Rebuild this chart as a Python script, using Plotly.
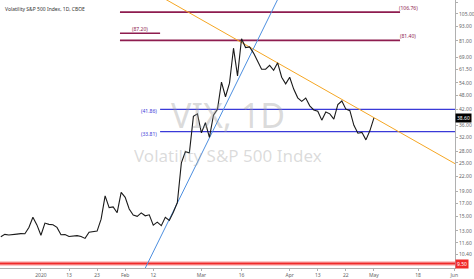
import math
import plotly.graph_objects as go

# ---------------- data ----------------
# VIX daily closes, 17 Dec 2019 -> 1 May 2020 (trading-day index 0 = 2 Jan 2020)
first_index = -10
vix_close = [
    12.29, 12.58, 12.50, 12.51, 12.61, 12.67, 12.65, 13.43, 14.82, 13.78,
    12.47, 14.02, 13.85, 13.79, 13.45, 12.54, 12.56, 12.32, 12.39, 12.42, 12.32,
    12.10, 12.85, 12.91, 12.98, 14.56, 18.23, 16.28, 16.39, 15.49, 18.84,
    17.97, 16.05, 15.15, 14.96, 15.47, 15.04, 15.18, 13.74, 14.15, 13.68,
    14.83, 14.38, 15.56, 17.08, 25.03, 27.85, 27.56, 39.16, 40.11,
    33.42, 36.82, 31.99, 39.62, 41.94, 54.46, 47.30, 53.90, 75.47, 57.83,
    82.69, 75.91, 76.45, 72.00, 66.04, 61.59, 61.67, 63.95, 61.00, 65.54,
    57.08, 53.54,
    57.06, 50.91, 46.80, 45.24, 46.70, 43.35, 41.67, 41.17, 37.76, 40.84,
    40.11, 38.15, 43.83, 45.41, 41.98, 41.38, 35.93, 33.29, 33.57, 31.23, 34.15,
    38.60,
]
bar_index = list(range(first_index, first_index + len(vix_close)))

x_tick_index = [0, 7, 14, 21, 28, 40, 50, 62, 69, 76, 83, 94, 103]
x_tick_text = ["2020", "13", "23", "Feb", "12", "Mar", "16", "Apr", "13", "22", "May", "18", "Jun"]

y_tick_values = [10.4, 11.6, 13, 15, 17, 19, 22, 25, 28, 32, 36, 42, 48, 54, 61.5, 69, 81, 93, 105, 117]

# drawn levels
maroon_levels = [106.76, 81.40]
maroon_short_level = [87.20]
blue_levels = [41.86, 33.81]
support_level = [9.50]
last_price = [38.60]

# drawn trend lines (index, value)
orange_trend_x = [25, 110]
orange_trend_y = [138.0, 21.4]
blue_trend_x = [20, 65]
blue_trend_y = [5.68, 193.0]

# ---------------- figure ----------------
X_MIN, X_MAX = -10.2, 103.2
Y_MIN, Y_MAX = 9.1, 120.0

MAROON = "#8e1c4f"
BLUE_H = "#3a3ad8"
BLUE_T = "#4d8fe0"
ORANGE = "#f5a623"
RED = "#f02a2a"
FONT = "Noto Sans"

fig = go.Figure()

# support line (with soft halo)
for lvl in support_level:
    fig.add_trace(go.Scatter(x=[X_MIN - 5, X_MAX + 5], y=[lvl, lvl], mode="lines",
                             line=dict(color="rgba(240,42,42,0.25)", width=5),
                             hoverinfo="skip", showlegend=False))
    fig.add_trace(go.Scatter(x=[X_MIN - 5, X_MAX + 5], y=[lvl, lvl], mode="lines",
                             line=dict(color=RED, width=2),
                             hoverinfo="skip", showlegend=False))

# maroon levels
for lvl in maroon_levels:
    fig.add_trace(go.Scatter(x=[19.7, 89.5], y=[lvl, lvl], mode="lines",
                             line=dict(color=MAROON, width=1.6),
                             hoverinfo="skip", showlegend=False))
for lvl in maroon_short_level:
    fig.add_trace(go.Scatter(x=[19.7, 29.7], y=[lvl, lvl], mode="lines",
                             line=dict(color=MAROON, width=1.6),
                             hoverinfo="skip", showlegend=False))

# blue levels
for lvl in blue_levels:
    fig.add_trace(go.Scatter(x=[29.7, X_MAX + 5], y=[lvl, lvl], mode="lines",
                             line=dict(color=BLUE_H, width=1.2),
                             hoverinfo="skip", showlegend=False))

# trend lines
fig.add_trace(go.Scatter(x=orange_trend_x, y=orange_trend_y, mode="lines",
                         line=dict(color=ORANGE, width=1), hoverinfo="skip", showlegend=False))
fig.add_trace(go.Scatter(x=blue_trend_x, y=blue_trend_y, mode="lines",
                         line=dict(color=BLUE_T, width=1), hoverinfo="skip", showlegend=False))

# price
fig.add_trace(go.Scatter(x=bar_index, y=vix_close, mode="lines",
                         line=dict(color="#1a1a1a", width=1.1), showlegend=False))

ann = []
# watermark
ann.append(dict(text="VIX, 1D", xref="paper", yref="paper", x=0.501, y=0.571,
                showarrow=False, font=dict(family=FONT, size=34, color="rgba(160,160,160,0.38)")))
ann.append(dict(text="Volatility S&P 500 Index", xref="paper", yref="paper", x=0.5, y=0.418,
                showarrow=False, font=dict(family=FONT, size=17, color="rgba(160,160,160,0.38)")))
# title
ann.append(dict(text="Volatility S&P 500 Index, 1D, CBOE", xref="paper", yref="paper",
                x=0.006, y=0.985, xanchor="left", yanchor="top", showarrow=False,
                font=dict(family=FONT, size=5, color="#333333")))
# level labels
for lvl in maroon_levels:
    ann.append(dict(text=f"({lvl:.2f})", x=91.5, y=math.log10(lvl), xref="x", yref="y",
                    showarrow=False, yshift=4, font=dict(family=FONT, size=5, color=MAROON)))
for lvl in maroon_short_level:
    ann.append(dict(text=f"({lvl:.2f})", x=24.7, y=math.log10(lvl), xref="x", yref="y",
                    showarrow=False, yshift=4, font=dict(family=FONT, size=5, color=MAROON)))
for lvl in blue_levels:
    ann.append(dict(text=f"({lvl:.2f})", x=29.4, y=math.log10(lvl), xref="x", yref="y",
                    xanchor="right", showarrow=False, yshift=-2,
                    font=dict(family=FONT, size=5, color=BLUE_H)))
# axis price tags
for lvl in last_price:
    ann.append(dict(text=f"{lvl:.2f}", x=1.0, y=math.log10(lvl), xref="paper", yref="y",
                    xanchor="left", showarrow=False, bgcolor="#000000", borderpad=1,
                    font=dict(family=FONT, size=5, color="#ffffff")))
for lvl in support_level:
    ann.append(dict(text=f"{lvl:.2f}", x=1.0, y=math.log10(lvl), xref="paper", yref="y",
                    xanchor="left", showarrow=False, bgcolor=RED, borderpad=1,
                    font=dict(family=FONT, size=5, color="#ffffff")))

fig.update_layout(
    template="none",
    width=474, height=279,
    margin=dict(l=0, r=19, t=0, b=11),
    paper_bgcolor="#ffffff", plot_bgcolor="#ffffff",
    showlegend=False,
    annotations=ann,
    xaxis=dict(range=[X_MIN, X_MAX], tickmode="array", tickvals=x_tick_index, ticktext=x_tick_text,
               showgrid=False, zeroline=False, showline=True, linecolor="#b0b0b0", linewidth=1,
               ticks="outside", ticklen=2, tickcolor="#b0b0b0", automargin=False,
               tickfont=dict(family=FONT, size=5, color="#666666")),
    yaxis=dict(type="log", range=[math.log10(Y_MIN), math.log10(Y_MAX)], side="right",
               tickmode="array", tickvals=y_tick_values, ticktext=[f"{v:.2f}" for v in y_tick_values],
               showgrid=False, zeroline=False, showline=True, linecolor="#b0b0b0", linewidth=1,
               ticks="outside", ticklen=2, tickcolor="#b0b0b0", automargin=False,
               tickfont=dict(family=FONT, size=5, color="#666666")),
)

fig.write_html("out.html")
